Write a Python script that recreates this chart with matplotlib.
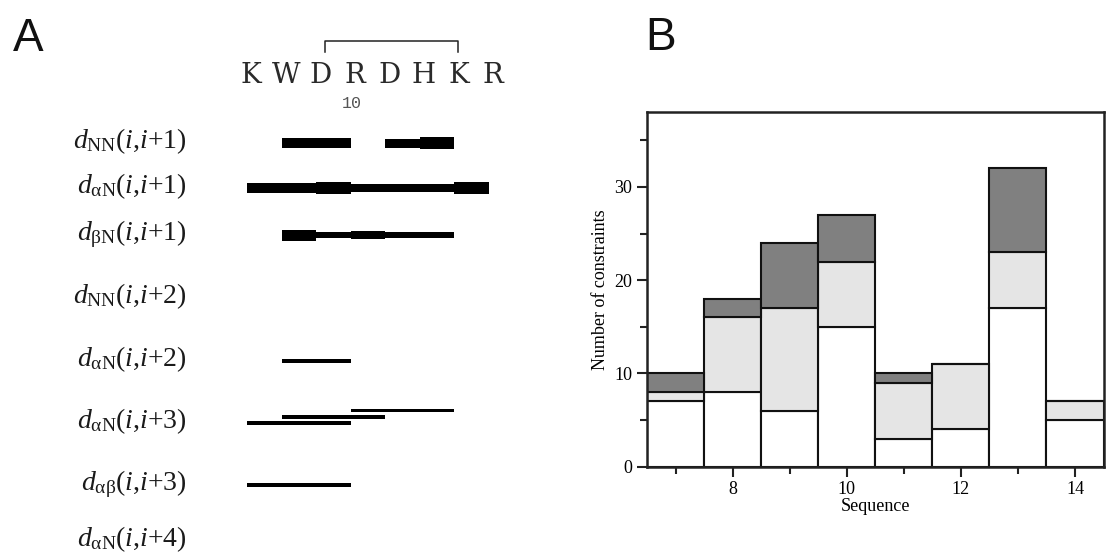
import matplotlib
matplotlib.use("Agg")
import matplotlib.pyplot as plt
from matplotlib.patches import Rectangle

# ---------------- data ----------------
residues = [7, 8, 9, 10, 11, 12, 13, 14]
sequence = ["K", "W", "D", "R", "D", "H", "K", "R"]
numbered_residue = 10
bridge = (9, 13)  # lactam bridge D9-K13

row_labels = [
    r"$d_{\mathrm{NN}}(i{,}i{+}1)$",
    r"$d_{\mathrm{αN}}(i{,}i{+}1)$",
    r"$d_{\mathrm{βN}}(i{,}i{+}1)$",
    r"$d_{\mathrm{NN}}(i{,}i{+}2)$",
    r"$d_{\mathrm{αN}}(i{,}i{+}2)$",
    r"$d_{\mathrm{αN}}(i{,}i{+}3)$",
    r"$d_{\mathrm{αβ}}(i{,}i{+}3)$",
    r"$d_{\mathrm{αN}}(i{,}i{+}4)$",
]

# sequential NOEs: start residue i and relative intensity (bar thickness)
dNN1_start = [8, 9, 11, 12]
dNN1_int = [10, 10, 9, 11.6]
daN1_start = [7, 8, 9, 10, 11, 12, 13]
daN1_int = [10.3, 10.3, 12.7, 7.3, 7.3, 7.3, 11.7]
dbN1_start = [8, 9, 10, 11, 12]
dbN1_int = [11, 6.7, 8.3, 6.3, 5.3]

# medium-range NOEs (i, j)
dNN2_pairs = []
daN2_pairs = [(8, 10)]
daN3_pairs = [(7, 10), (8, 11), (10, 13)]
dab3_pairs = [(7, 10)]
daN4_pairs = []

# panel B: cumulative heights per residue
seq_pos = [7, 8, 9, 10, 11, 12, 13, 14]
white_top = [7, 8, 6, 15, 3, 4, 17, 5]
light_top = [8, 16, 17, 22, 9, 11, 23, 7]
dark_top = [10, 18, 24, 27, 10, 11, 32, 7]

# ---------------- figure ----------------
W, H = 1110, 554
plt.rcParams["mathtext.fontset"] = "custom"
plt.rcParams["mathtext.rm"] = "Liberation Serif"
plt.rcParams["mathtext.it"] = "Liberation Serif:italic"
fig = plt.figure(figsize=(W / 100, H / 100), dpi=100)

# Panel A axes: x in residue units, y in pixel rows (top = 0)
axA = fig.add_axes([0, 0, 555 / W, 1])
px0, pitch = 247.0, 34.57
axA.set_xlim(7 - px0 / pitch, 7 + (555 - px0) / pitch)
axA.set_ylim(H, 0)
axA.axis("off")

def xd(px):
    return 7 + (px - px0) / pitch

row_y = [143, 188, 235, 298, 361, 423, 485, 541]
label_x = xd(187)
for lab, y in zip(row_labels, row_y):
    axA.text(label_x, y + 5, lab, ha="right", va="baseline", fontsize=20,
             color="#1a1a1a")

def seq_bars(starts, ints, y):
    for s, t in zip(starts, ints):
        axA.add_patch(Rectangle((s, y - t / 2), 1, t, facecolor="black",
                                edgecolor="none"))

seq_bars(dNN1_start, dNN1_int, row_y[0])
seq_bars(daN1_start, daN1_int, row_y[1])
seq_bars(dbN1_start, dbN1_int, row_y[2])

def range_lines(pairs, y):
    for k, (i, j) in enumerate(pairs):
        yy = y - 6.2 * k
        axA.add_patch(Rectangle((i, yy - 1.7), j - i, 3.4, facecolor="black",
                                edgecolor="none"))

range_lines(dNN2_pairs, row_y[3])
range_lines(daN2_pairs, row_y[4])
range_lines(daN3_pairs, row_y[5])
range_lines(dab3_pairs, row_y[6])
range_lines(daN4_pairs, row_y[7])

# sequence letters
for r, aa in zip(residues, sequence):
    axA.text(r + 0.12, 83, aa, ha="center", va="baseline", fontsize=20,
             family="DejaVu Serif", color="#2a2a2a")
axA.text(numbered_residue + 0.03, 108, str(numbered_residue), ha="center",
         va="baseline", fontsize=12, family="Liberation Mono", color="#555555")
b0, b1 = bridge[0] + 0.25, bridge[1] + 0.1
axA.plot([b0, b0, b1, b1], [52, 41, 41, 52], color="#222222", lw=1.1)

fig.text(13 / W, 1 - 51 / H, "A", fontsize=33, family="Liberation Sans",
         ha="left", va="baseline", color="#111111")
fig.text(645 / W, 1 - 50 / H, "B", fontsize=33, family="Liberation Sans",
         ha="left", va="baseline", color="#111111")

# ---------------- panel B ----------------
left = 647 / W
right = 1103.5 / W
bottom = (H - 466.7) / H
top = (H - 112.3) / H
axB = fig.add_axes([left, bottom, right - left, top - bottom])

light_h = [l - w for l, w in zip(light_top, white_top)]
dark_h = [d - l for d, l in zip(dark_top, light_top)]
kw = dict(width=1.0, edgecolor="#111111", linewidth=1.5)
axB.bar(seq_pos, white_top, color="white", **kw)
axB.bar(seq_pos, light_h, bottom=white_top, color="#e5e5e5", **kw)
axB.bar(seq_pos, dark_h, bottom=light_top, color="#808080", **kw)

axB.set_xlim(6.5, 14.5)
axB.set_ylim(0, 38)
axB.set_xticks([8, 10, 12, 14])
axB.set_xticks([7, 9, 11, 13], minor=True)
axB.set_yticks([0, 10, 20, 30])
axB.set_yticks([5, 15, 25, 35], minor=True)
for sp in axB.spines.values():
    sp.set_linewidth(1.8)
    sp.set_color("#222222")
axB.tick_params(which="major", length=7, width=1.5, color="#222222",
                labelsize=13, direction="out")
axB.tick_params(which="minor", length=5, width=1.5, color="#222222",
                direction="out")
for lab in axB.get_xticklabels() + axB.get_yticklabels():
    lab.set_family("Liberation Serif")
axB.set_xlabel("Sequence", family="Liberation Serif", fontsize=13, labelpad=0)
axB.set_ylabel("Number of constraints", family="Liberation Serif",
               fontsize=13, labelpad=4)

fig.savefig("out.png", dpi=100)
